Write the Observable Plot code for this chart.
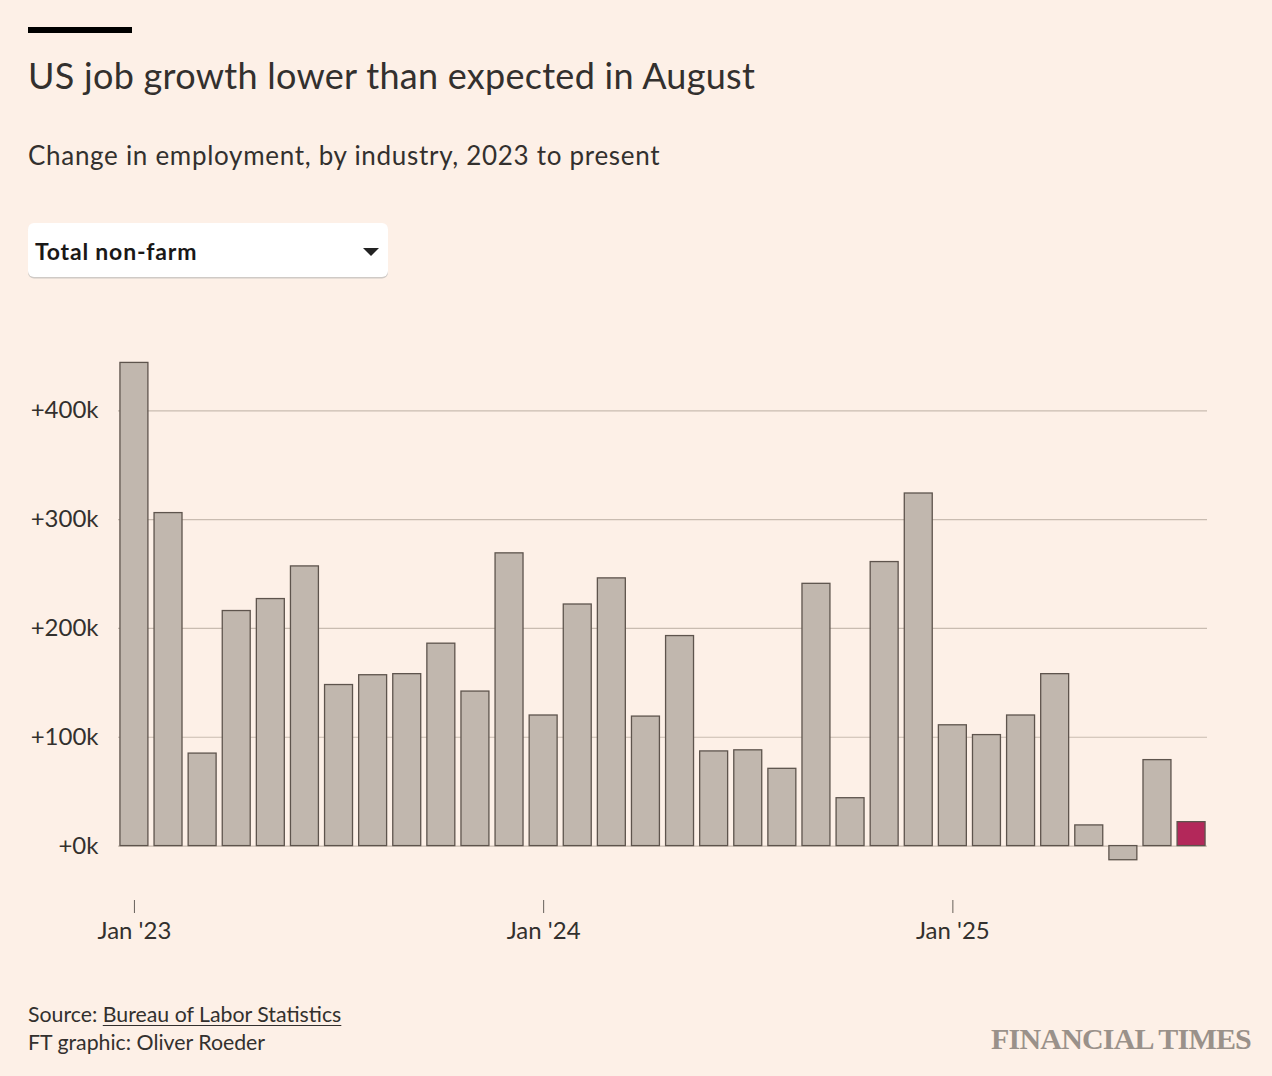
<!DOCTYPE html>
<html>
<head>
<meta charset="utf-8">
<script src="https://cdn.jsdelivr.net/npm/d3@7"></script>
<script src="https://cdn.jsdelivr.net/npm/@observablehq/plot@0.6"></script>
<style>
  html, body { margin: 0; padding: 0; background: #fdf0e7; }
  body { width: 1272px; height: 1076px; position: relative; overflow: hidden; font-family: Lato, "Open Sans", sans-serif; color: #33302e; }
  .topbar { position: absolute; left: 28px; top: 27px; width: 104px; height: 6px; background: #000; }
  .title { position: absolute; left: 28px; top: 55px; font-size: 36px; line-height: 40px; letter-spacing: 0.28px; white-space: nowrap; color: #33302e; }
  .subtitle { position: absolute; left: 28px; top: 140px; font-size: 26px; line-height: 30px; letter-spacing: 0.7px; white-space: nowrap; color: #33302e; }
  .dropdown { position: absolute; left: 28px; top: 223px; width: 360px; height: 54px; background: #fff; border-radius: 6px; box-shadow: 0 1.5px 0 #cfcac6; }
  .dropdown span { position: absolute; left: 7px; top: 15px; font-size: 23px; line-height: 26px; font-weight: 700; letter-spacing: 0.8px; color: #1a1817; }
  .dropdown .tri { position: absolute; left: 335px; top: 25px; width: 0; height: 0; border-left: 8px solid transparent; border-right: 8px solid transparent; border-top: 8px solid #222; }
  #chart { position: absolute; left: 0; top: 300px; }
  .source { position: absolute; left: 28px; top: 1000px; font-size: 21.3px; line-height: 28px; color: #33302e; }
  .source u { text-decoration-thickness: 1px; text-underline-offset: 3px; }
  .logo { position: absolute; left: 991px; top: 1022px; font-family: "Liberation Serif", "DejaVu Serif", serif; font-size: 30px; line-height: 34px; font-weight: 700; color: #9a918a; letter-spacing: -0.8px; white-space: nowrap; }
</style>
</head>
<body>
<div class="topbar"></div>
<div class="title">US job growth lower than expected in August</div>
<div class="subtitle">Change in employment, by industry, 2023 to present</div>
<div class="dropdown"><span>Total non-farm</span><div class="tri"></div></div>
<div id="chart"></div>
<div class="source">Source: <u>Bureau of Labor Statistics</u><br>FT graphic: Oliver Roeder</div>
<div class="logo">FINANCIAL TIMES</div>
<script>
// Months (Jan 2023 – Aug 2025)
const months = [
  "2023-01","2023-02","2023-03","2023-04","2023-05","2023-06","2023-07","2023-08","2023-09","2023-10","2023-11","2023-12",
  "2024-01","2024-02","2024-03","2024-04","2024-05","2024-06","2024-07","2024-08","2024-09","2024-10","2024-11","2024-12",
  "2025-01","2025-02","2025-03","2025-04","2025-05","2025-06","2025-07","2025-08"
];
// Change in total non-farm employment, thousands
const jobsChange = [
  444, 306, 85, 216, 227, 257, 148, 157, 158, 186, 142, 269,
  120, 222, 246, 119, 193, 87, 88, 71, 241, 44, 261, 324,
  111, 102, 120, 158, 19, -13, 79, 22
];
const highlightMonth = "2025-08";
const xTicks = ["2023-01", "2024-01", "2025-01"];
const xTickLabels = ["Jan '23", "Jan '24", "Jan '25"];
const yTicks = [0, 100, 200, 300, 400];

const data = months.map((m, i) => ({ month: m, value: jobsChange[i] }));

const chart = Plot.plot({
  width: 1272,
  height: 650,
  marginTop: 45,
  marginBottom: 50,
  marginLeft: 118,
  marginRight: 65,
  style: { background: "transparent", fontFamily: "Lato, 'Open Sans', sans-serif", fontSize: "24px", color: "#33302e" },
  x: { type: "band", domain: months, paddingInner: 0.18, paddingOuter: 0.057, round: false, label: null },
  y: { domain: [-50, 460], label: null },
  marks: [
    Plot.gridY(yTicks, { stroke: "#c9bcb1", strokeOpacity: 1, strokeWidth: 1.2 }),
    Plot.barY(data, {
      x: "month", y: "value",
      fill: d => d.month === highlightMonth ? "#b3285a" : "#c1b7ae",
      stroke: "#5e544d", strokeWidth: 1.3
    }),
    Plot.axisY(yTicks, {
      tickSize: 0, tickPadding: 20,
      tickFormat: d => "+" + d + "k",
      fontSize: 24, fill: "#33302e", style: { letterSpacing: "0.4px" }
    }),
    Plot.axisX(xTicks, {
      tickSize: 13, tickPadding: 8, stroke: "#66605a", strokeWidth: 1,
      tickFormat: d => xTickLabels[xTicks.indexOf(d)],
      fontSize: 24, fill: "#33302e", style: { letterSpacing: "0.5px" }
    })
  ]
});
document.getElementById("chart").appendChild(chart);
</script>
</body>
</html>
